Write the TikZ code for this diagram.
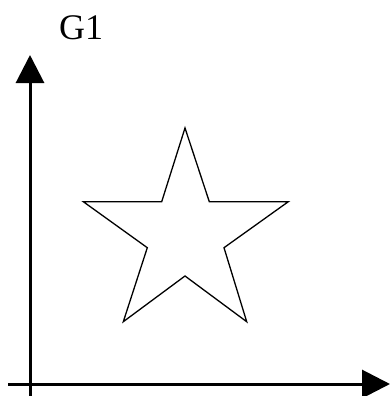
\documentclass[tikz,border=0pt]{standalone}
\usepackage{fontspec}
\setmainfont{Liberation Serif}
\usetikzlibrary{arrows.meta}
\begin{document}
\begin{tikzpicture}[x=1pt,y=-1pt,
  axis/.style={line width=3pt,-{Triangle[length=28pt,width=28pt]}},
  starline/.style={line width=1.3pt,line join=miter}]
\useasboundingbox (0,0) rectangle (390,396);
\coordinate (xs) at (8,384);
\coordinate (xe) at (390,384);
\coordinate (ys) at (30,396);
\coordinate (ye) at (30,55);
\draw[axis] (xs) -- (xe);
\draw[axis] (ys) -- (ye);
\node[inner sep=0pt, anchor=base west, font=\fontsize{36pt}{36pt}\selectfont] (g1) at (59,40) {G1};
\draw[starline] (185,128) -- (209.3,201.7) -- (288.3,201.7) -- (224,247.7)
  -- (246.7,321.7) -- (185,276) -- (123.3,321.7) -- (147.3,247.7)
  -- (83.3,201.7) -- (161.7,201.7) -- cycle;
\end{tikzpicture}
\end{document}
